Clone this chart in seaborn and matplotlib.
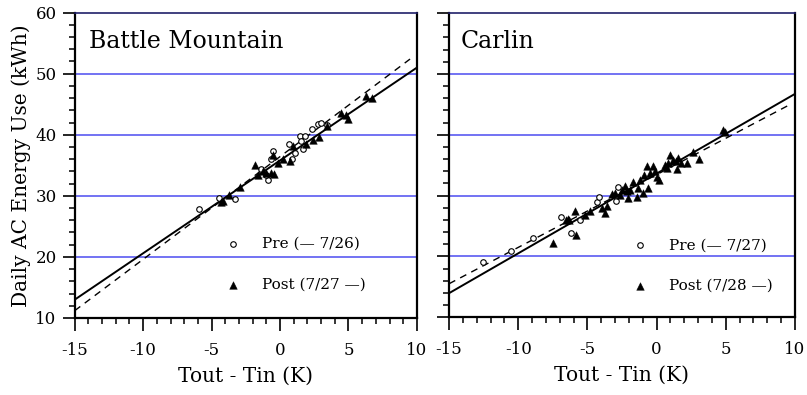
import numpy as np
import pandas as pd
import matplotlib
matplotlib.use("Agg")
import matplotlib.pyplot as plt
from matplotlib.ticker import MultipleLocator
import seaborn as sns

# ---------------- data ----------------
bm_pre_x = [-5.9, -4.45, -3.3, -0.91, -1.04, -1.38, -0.67, -0.55, 0.66, 1.08, 0.91,
            1.45, 1.86, 1.69, 1.5, 2.35, 2.78, 3.03, 3.43]
bm_pre_y = [27.9, 29.6, 29.5, 32.6, 33.4, 34.4, 36.0, 37.3, 38.5, 37.0, 36.0,
            39.8, 39.8, 37.7, 38.9, 40.9, 41.7, 41.9, 41.6]
bm_post_x = [-4.32, -4.15, -3.76, -2.89, -1.84, -1.6, -1.23, -1.0, -0.63, -0.46, -0.55,
             -0.14, 0.23, 0.7, 0.96, 1.93, 2.42, 2.85, 3.44, 4.48, 4.85, 4.97, 6.3, 6.75]
bm_post_y = [29.0, 29.1, 30.2, 31.4, 35.1, 33.4, 34.0, 33.7, 33.8, 33.6, 36.7,
             35.4, 36.0, 35.7, 38.1, 38.5, 39.2, 39.7, 41.5, 43.5, 43.3, 42.6, 46.3, 46.0]
bm_solid_x = [-15, 10]
bm_solid_y = [13.0, 51.0]
bm_dash_x = [-15, 9.5]
bm_dash_y = [11.2, 52.4]

ca_pre_x = [-12.57, -10.54, -8.9, -6.93, -6.18, -5.55, -4.33, -4.16, -2.81, -2.91]
ca_pre_y = [19.0, 20.9, 23.0, 26.4, 23.8, 25.9, 28.9, 29.7, 31.4, 29.1]
ca_post_x = [-7.5, -5.9, -5.82, -6.55, -6.4, -6.3, -5.17, -4.81, -3.97, -3.73, -3.6,
             -3.25, -3.0, -2.64, -2.52, -2.28, -2.16, -2.04, -1.92, -1.68, -1.39,
             -1.32, -1.2, -1.0, -0.91, -0.72, -0.6, -0.48, -0.28, -0.12, 0.05, 0.2,
             0.6, 0.85, 0.73, 0.97, 1.21, 1.4, 1.5, 1.57, 1.74, 2.22, 2.65, 3.04,
             4.77, 4.94]
ca_post_y = [22.2, 27.5, 23.5, 26.0, 26.1, 26.0, 26.8, 27.5, 27.9, 27.2, 28.3,
             30.2, 30.4, 30.1, 30.9, 31.5, 30.7, 29.6, 30.9, 32.3, 29.8,
             31.2, 32.6, 30.4, 33.4, 34.8, 31.2, 33.7, 34.8, 34.0, 33.1, 32.6,
             35.1, 35.3, 34.5, 36.7, 35.9, 35.6, 34.3, 36.2, 35.4, 35.3, 37.2, 36.0,
             40.8, 40.5]
ca_solid_x = [-15, 10]
ca_solid_y = [13.95, 46.7]
ca_dash_x = [-15, 9.6]
ca_dash_y = [15.5, 44.9]

panels = [
    dict(title="Battle Mountain", pre=(bm_pre_x, bm_pre_y), post=(bm_post_x, bm_post_y),
         solid=(bm_solid_x, bm_solid_y), dash=(bm_dash_x, bm_dash_y),
         pre_label="Pre (\u2014 7/26)", post_label="Post (7/27 \u2014)"),
    dict(title="Carlin", pre=(ca_pre_x, ca_pre_y), post=(ca_post_x, ca_post_y),
         solid=(ca_solid_x, ca_solid_y), dash=(ca_dash_x, ca_dash_y),
         pre_label="Pre (\u2014 7/27)", post_label="Post (7/28 \u2014)"),
]

xticks = [-15, -10, -5, 0, 5, 10]
yticks = [10, 20, 30, 40, 50, 60]

# ---------------- style ----------------
sns.set_style("white")
plt.rcParams["font.family"] = ["DejaVu Serif"]
plt.rcParams["axes.unicode_minus"] = False
plt.rcParams["text.color"] = "black"
plt.rcParams["axes.labelcolor"] = "black"
plt.rcParams["xtick.color"] = "black"
plt.rcParams["ytick.color"] = "black"

fig = plt.figure(figsize=(8.07, 3.95), dpi=100)
ax_pos = [[0.0926, 0.195, 0.424, 0.773], [0.5565, 0.197, 0.4285, 0.770]]
leg_anchor = [(0.441, 0.176), (0.530, 0.169)]
title_pos = [(0.042, 0.883), (0.032, 0.884)]

grid_color = "#4b4bf0"

for i, p in enumerate(panels):
    ax = fig.add_axes(ax_pos[i])
    ax.set_xlim(-15, 10)
    ax.set_ylim(10, 60)
    ax.set_xticks(xticks)
    ax.set_yticks(yticks)
    ax.xaxis.set_minor_locator(MultipleLocator(1))
    ax.yaxis.set_minor_locator(MultipleLocator(2))
    for yv in yticks[1:-1]:
        ax.axhline(yv, color=grid_color, lw=1.1, zorder=0)

    # fitted lines
    sns.lineplot(x=p["solid"][0], y=p["solid"][1], ax=ax, color="black", lw=1.4, zorder=3)
    sns.lineplot(x=p["dash"][0], y=p["dash"][1], ax=ax, color="black", lw=1.0,
                 linestyle=(0, (5, 4)), zorder=3)

    # points
    pre_df = pd.DataFrame({"x": p["pre"][0], "y": p["pre"][1]})
    post_df = pd.DataFrame({"x": p["post"][0], "y": p["post"][1]})
    sns.scatterplot(data=pre_df, x="x", y="y", ax=ax, marker="o", s=16,
                    facecolor="white", edgecolor="black", linewidth=0.8,
                    label=p["pre_label"], zorder=4)
    sns.scatterplot(data=post_df, x="x", y="y", ax=ax, marker="^", s=30,
                    color="black", edgecolor="black", linewidth=0.3,
                    label=p["post_label"], zorder=5)

    leg = ax.legend(loc="center left", bbox_to_anchor=leg_anchor[i], frameon=False,
                    fontsize=11, handlelength=1.0, handletextpad=1.4,
                    labelspacing=1.75, borderpad=0, borderaxespad=0)
    for t in leg.get_texts():
        t.set_color("black")

    ax.text(title_pos[i][0], title_pos[i][1], p["title"], transform=ax.transAxes,
            fontsize=17, va="baseline", ha="left", color="black")

    for side in ["left", "bottom", "right"]:
        ax.spines[side].set_visible(True)
        ax.spines[side].set_linewidth(1.6)
        ax.spines[side].set_color("black")
    ax.spines["top"].set_visible(True)
    ax.spines["top"].set_linewidth(1.2)
    ax.spines["top"].set_color("#20206a")

    ax.tick_params(axis="both", which="major", direction="out", length=9, width=1.2,
                   color="black", labelsize=12, pad=4)
    ax.tick_params(axis="x", which="major", pad=8)
    ax.tick_params(axis="both", which="minor", direction="out", length=4.5, width=1.1,
                   color="black")
    ax.tick_params(axis="both", which="both", bottom=True, left=True, top=False, right=False)
    ax.set_xlabel("Tout - Tin (K)", fontsize=14.5, labelpad=6)
    if i == 0:
        ax.set_ylabel("Daily AC Energy Use (kWh)", fontsize=14.5, labelpad=3)
    else:
        ax.set_ylabel("")
        ax.set_yticklabels([])

fig.savefig("out.png", dpi=100)
